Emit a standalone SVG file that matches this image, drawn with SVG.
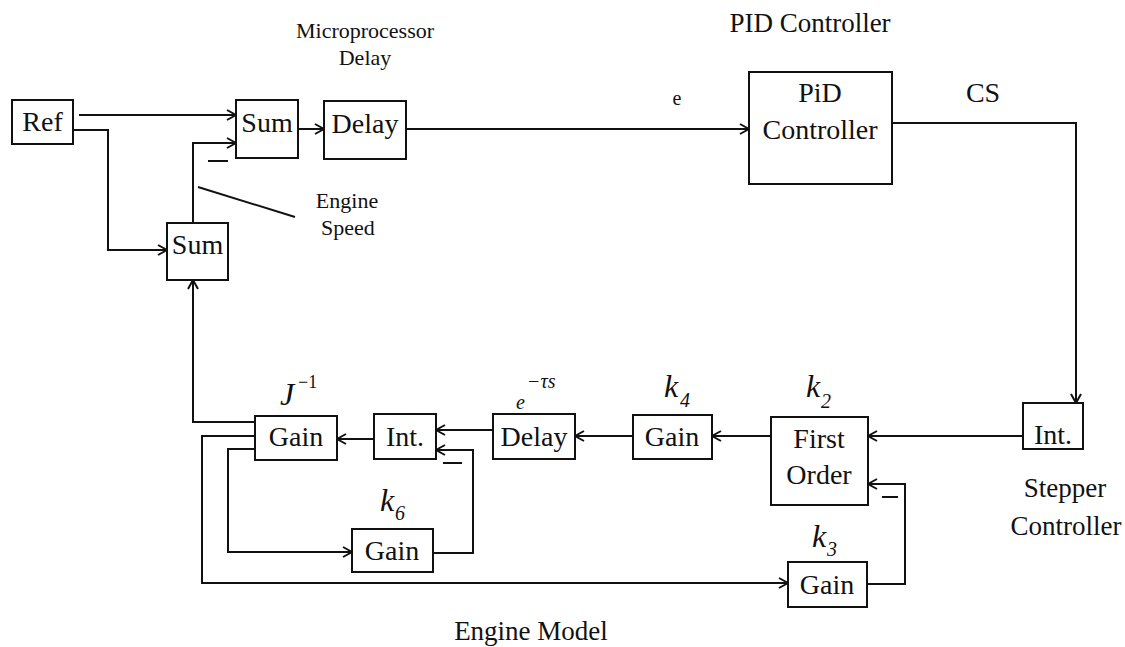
<svg xmlns="http://www.w3.org/2000/svg" width="1125" height="647" viewBox="0 0 1125 647">
<defs>
<marker id="a" markerWidth="12" markerHeight="12" refX="10" refY="6" orient="auto" markerUnits="userSpaceOnUse"><path d="M1,1 L10,6 L1,11" fill="none" stroke="#111" stroke-width="2"/></marker>
</defs>
<style>
.b{fill:#fff;stroke:#111;stroke-width:2}
.t{font-family:"Liberation Serif","Times New Roman",serif;font-size:28px;fill:#111;text-anchor:middle}
.l{font-family:"Liberation Serif","Times New Roman",serif;fill:#111;text-anchor:middle}
.k{font-family:"Liberation Serif","Times New Roman",serif;font-style:italic;fill:#111}
.c{fill:none;stroke:#111;stroke-width:2;marker-end:url(#a)}
.m{fill:none;stroke:#111;stroke-width:2}
</style>
<rect width="1125" height="647" fill="#fff"/>
<g id="connectors">
<path class="c" d="M79,115 H236"/>
<path class="c" d="M74,130 H108 V250 H167"/>
<path class="c" d="M193,223 V143 H236"/>
<path class="c" d="M298,129 H324"/>
<path class="c" d="M406,129 H749"/>
<path class="c" d="M892,123 H1076 V403"/>
<path class="c" d="M1023,436 H868"/>
<path class="c" d="M771,436 H712"/>
<path class="c" d="M633,436 H575"/>
<path class="c" d="M493,430 H436"/>
<path class="c" d="M374,439 H337"/>
<path class="c" d="M255,422 H193 V280"/>
<path class="c" d="M255,436 H202 V583 H788"/>
<path class="c" d="M255,449 H228 V552 H352"/>
<path class="c" d="M433,553 H473 V450 H436"/>
<path class="c" d="M867,584 H905 V484 H868"/>
<path class="m" d="M208,161 H228 M443,463 H462 M882,497 H898 M198,187 L295,217"/>
</g>
<g id="ref"><rect class="b" x="12" y="100" width="61" height="44"/><text class="t" x="42.5" y="131">Ref</text></g>
<g id="sum1"><rect class="b" x="236" y="100" width="62" height="58"/><text class="t" x="267" y="132">Sum</text></g>
<g id="sum2"><rect class="b" x="167" y="223" width="61" height="57"/><text class="t" x="197.5" y="254">Sum</text></g>
<g id="delay1"><rect class="b" x="324" y="101" width="82" height="58"/><text class="t" x="365" y="133">Delay</text></g>
<g id="pid"><rect class="b" x="749" y="72" width="143" height="112"/><text class="t" x="820" y="102">PiD</text><text class="t" x="820" y="139">Controller</text></g>
<g id="int-right"><rect class="b" x="1023" y="403" width="60" height="46"/><text class="t" x="1053" y="444">Int.</text></g>
<g id="first-order"><rect class="b" x="771" y="417" width="97" height="88"/><text class="t" x="819" y="448">First</text><text class="t" x="819" y="484">Order</text></g>
<g id="gain-k4"><rect class="b" x="633" y="415" width="79" height="44"/><text class="t" x="672" y="446">Gain</text></g>
<g id="delay2"><rect class="b" x="493" y="414" width="82" height="45"/><text class="t" x="534" y="446">Delay</text></g>
<g id="int-left"><rect class="b" x="374" y="414" width="62" height="45"/><text class="t" x="405" y="446">Int.</text></g>
<g id="gain-j"><rect class="b" x="255" y="416" width="82" height="44"/><text class="t" x="296" y="446">Gain</text></g>
<g id="gain-k6"><rect class="b" x="352" y="529" width="81" height="43"/><text class="t" x="392" y="560">Gain</text></g>
<g id="gain-k3"><rect class="b" x="788" y="562" width="79" height="45"/><text class="t" x="827" y="594">Gain</text></g>
<g id="labels">
<text class="l" x="365" y="38" style="font-size:22px">Microprocessor</text>
<text class="l" x="365" y="65" style="font-size:22px">Delay</text>
<text class="l" x="810" y="32" style="font-size:27px">PID Controller</text>
<text class="l" x="677" y="105" style="font-size:20px">e</text>
<text class="l" x="983" y="102" style="font-size:28px">CS</text>
<text class="l" x="347" y="208" style="font-size:22px">Engine</text>
<text class="l" x="348" y="235" style="font-size:22px">Speed</text>
<text class="l" x="1065" y="497" style="font-size:27px">Stepper</text>
<text class="l" x="1066" y="535" style="font-size:27px">Controller</text>
<text class="l" x="531" y="640" style="font-size:27px">Engine Model</text>
<text class="k" x="280" y="405" style="font-size:32px">J</text>
<text class="l" x="298" y="388" style="font-size:18px;text-anchor:start">−1</text>
<text class="k" x="516" y="409" style="font-size:20px">e</text>
<text class="k" x="527" y="388" style="font-size:20px">−τs</text>
<text class="k" x="664" y="397" style="font-size:32px">k</text><text class="k" x="680" y="407" style="font-size:20px">4</text>
<text class="k" x="806" y="397" style="font-size:32px">k</text><text class="k" x="821" y="408" style="font-size:20px">2</text>
<text class="k" x="812" y="547" style="font-size:32px">k</text><text class="k" x="827" y="556" style="font-size:20px">3</text>
<text class="k" x="380" y="511" style="font-size:32px">k</text><text class="k" x="395" y="520" style="font-size:20px">6</text>
</g>
</svg>
